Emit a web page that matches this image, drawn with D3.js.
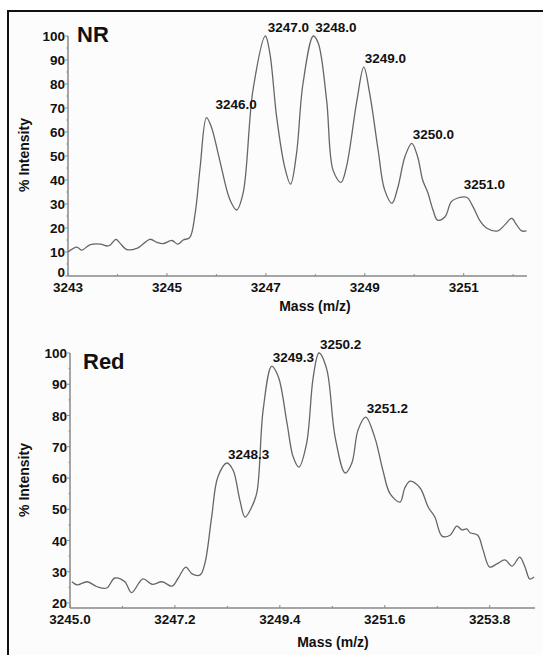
<!DOCTYPE html>
<html>
<head>
<meta charset="utf-8">
<script src="https://cdn.jsdelivr.net/npm/d3@7"></script>
<style>
  body { margin: 0; background: #fff; }
  text { font-family: "Liberation Sans", Arial, sans-serif; fill: #111; }
  .tick-label { font-size: 13.5px; font-weight: bold; }
  .peak-label { font-size: 13.5px; font-weight: bold; }
  .axis-title { font-size: 14px; font-weight: bold; }
  .panel-title { font-size: 22px; font-weight: bold; }
</style>
</head>
<body>
<svg id="chart" width="543" height="655"></svg>
<script>
// --- NR spectrum (top) ---
var nrMass = [3243.00, 3243.18, 3243.28, 3243.44, 3243.65, 3243.79, 3243.85, 3243.97, 3244.05, 3244.19,
  3244.39, 3244.47, 3244.66, 3244.80, 3244.92, 3245.10, 3245.22, 3245.33, 3245.46, 3245.57,
  3245.67, 3245.80, 3245.90, 3246.07, 3246.27, 3246.41, 3246.54, 3246.74, 3246.99, 3247.08,
  3247.22, 3247.38, 3247.50, 3247.62, 3247.75, 3247.96, 3248.06, 3248.23, 3248.36, 3248.52,
  3248.63, 3248.84, 3248.98, 3249.10, 3249.27, 3249.40, 3249.55, 3249.67, 3249.81, 3249.95,
  3250.07, 3250.17, 3250.27, 3250.38, 3250.47, 3250.62, 3250.75, 3250.88, 3251.06, 3251.19,
  3251.32, 3251.46, 3251.69, 3251.83, 3251.97, 3252.07, 3252.17, 3252.27];
var nrIntensity = [10.0, 12.0, 10.8, 13.0, 13.3, 12.5, 12.8, 15.3, 13.7, 11.0,
  11.5, 12.5, 15.3, 14.0, 13.5, 14.8, 13.3, 15.0, 16.0, 26.0,
  45.0, 66.0, 62.0, 48.0, 32.0, 27.5, 34.5, 77.5, 100.0, 93.0,
  66.0, 45.5, 38.3, 51.0, 80.0, 100.0, 97.0, 73.0, 44.0, 39.0,
  45.5, 73.0, 87.0, 76.0, 52.5, 36.0, 30.3, 37.0, 49.6, 55.3,
  49.6, 40.0, 35.0, 27.5, 23.3, 24.6, 31.0, 32.5, 32.8, 28.8,
  23.3, 20.0, 18.8, 21.3, 24.0, 21.3, 18.8, 18.8];
var nrPeakText = ["3246.0", "3247.0", "3248.0", "3249.0", "3250.0", "3251.0"];
var nrPeakMass = [3245.96, 3247.02, 3247.98, 3248.98, 3249.95, 3250.98];
var nrPeakInt = [68.0, 100.0, 100.0, 87.0, 55.3, 34.5];
var nrXLabels = [3243, 3245, 3247, 3249, 3251];
var nrXMinor = [3244, 3246, 3248, 3250, 3252];
var nrYLabels = [0, 10, 20, 30, 40, 50, 60, 70, 80, 90, 100];

// --- Red spectrum (bottom) ---
var redMass = [3245.04, 3245.15, 3245.36, 3245.57, 3245.77, 3245.94, 3246.15, 3246.29, 3246.53, 3246.72,
  3246.93, 3247.14, 3247.27, 3247.43, 3247.56, 3247.73, 3247.83, 3247.97, 3248.10, 3248.29,
  3248.42, 3248.56, 3248.67, 3248.81, 3248.92, 3249.05, 3249.23, 3249.37, 3249.55, 3249.68,
  3249.80, 3249.96, 3250.10, 3250.22, 3250.38, 3250.56, 3250.77, 3250.91, 3251.04, 3251.20,
  3251.39, 3251.56, 3251.71, 3251.92, 3252.02, 3252.13, 3252.34, 3252.51, 3252.65, 3252.80,
  3252.97, 3253.11, 3253.22, 3253.32, 3253.39, 3253.55, 3253.66, 3253.80, 3253.95, 3254.12,
  3254.27, 3254.43, 3254.54, 3254.64, 3254.73];
var redIntensity = [26.8, 25.8, 26.8, 25.2, 24.8, 28.0, 26.8, 23.3, 27.7, 26.0,
  26.8, 25.4, 28.0, 31.5, 29.3, 29.0, 32.8, 47.5, 60.3, 64.8,
  62.5, 53.0, 47.5, 50.7, 55.5, 81.8, 95.8, 92.3, 77.6, 66.7,
  63.5, 71.0, 92.3, 100.0, 95.0, 73.0, 61.6, 64.8, 75.4, 79.5,
  73.0, 62.5, 55.0, 52.3, 56.8, 59.0, 56.8, 50.7, 47.5, 41.4,
  41.7, 44.6, 43.4, 43.7, 42.5, 41.7, 37.0, 31.5, 32.5, 33.8,
  31.8, 34.7, 31.5, 27.7, 28.3];
var redPeakText = ["3248.3", "3249.3", "3250.2", "3251.2"];
var redPeakMass = [3248.29, 3249.23, 3250.22, 3251.20];
var redPeakInt = [64.8, 95.8, 100.0, 79.5];
var redXLabels = [3245.0, 3247.2, 3249.4, 3251.6, 3253.8];
var redXMinor = [3246.1, 3248.3, 3250.5, 3252.7];
var redYLabels = [20, 30, 40, 50, 60, 70, 80, 90, 100];

var svg = d3.select("#chart");

// page frame (top and left edges only are visible)
svg.append("rect").attr("x", 0).attr("y", 0).attr("width", 543).attr("height", 655).attr("fill", "#fff");
svg.append("rect").attr("x", 8).attr("y", 11).attr("width", 540).attr("height", 650)
  .attr("fill", "#fcfcfc").attr("stroke", "#111").attr("stroke-width", 2);

// --- draws one spectrum panel ---
function drawPanel(opt) {
  var x = d3.scaleLinear().domain(opt.xDomain).range(opt.xRange);
  var y = d3.scaleLinear().domain(opt.yDomain).range(opt.yRange);
  var g = svg.append("g");
  var axisColor = "#888";
  var x0 = opt.xRange[0], y0 = opt.yRange[0];

  // y axis line + ticks
  g.append("line").attr("x1", x0).attr("x2", x0).attr("y1", y0).attr("y2", y(100))
    .attr("stroke", axisColor).attr("stroke-width", 1.5);
  opt.yLabels.forEach(function (v) {
    g.append("line").attr("x1", x0 - 3).attr("x2", x0).attr("y1", y(v)).attr("y2", y(v))
      .attr("stroke", axisColor);
    // the bottom "0" sits a little higher so it clears the x labels
    g.append("text").attr("class", "tick-label").attr("x", x0 - 3)
      .attr("y", y(v) + (v === 0 ? 1 : 5))
      .attr("text-anchor", "end").text(v);
    if (v + 5 <= 100) {
      g.append("line").attr("x1", x0 - 1.5).attr("x2", x0).attr("y1", y(v + 5)).attr("y2", y(v + 5))
        .attr("stroke", axisColor);
    }
  });

  // x axis line + ticks
  g.append("line").attr("x1", x0).attr("x2", opt.xRange[1]).attr("y1", y0).attr("y2", y0)
    .attr("stroke", axisColor).attr("stroke-width", 1.5);
  opt.xLabels.forEach(function (v) {
    g.append("line").attr("x1", x(v)).attr("x2", x(v)).attr("y1", y0).attr("y2", y0 - 3)
      .attr("stroke", axisColor);
    g.append("text").attr("class", "tick-label").attr("x", x(v)).attr("y", y0 + 16)
      .attr("text-anchor", "middle").text(opt.xFormat(v));
  });
  opt.xMinor.forEach(function (v) {
    g.append("line").attr("x1", x(v)).attr("x2", x(v)).attr("y1", y0).attr("y2", y0 - 2)
      .attr("stroke", axisColor);
  });

  // titles
  g.append("text").attr("class", "axis-title").attr("text-anchor", "middle")
    .attr("transform", translate(29, opt.yTitleY) + " rotate(-90)").text("% Intensity");
  g.append("text").attr("class", "axis-title").attr("text-anchor", "middle")
    .attr("x", opt.xTitleX).attr("y", opt.xTitleY).text("Mass (m/z)");
  g.append("text").attr("class", "panel-title").attr("x", opt.titleX).attr("y", opt.titleY)
    .text(opt.title);

  // spectrum line
  var pts = opt.mass.map(function (m, i) { return [m, opt.intensity[i]]; });
  var line = d3.line()
    .x(function (d) { return x(d[0]); })
    .y(function (d) { return y(d[1]); })
    .curve(d3.curveCatmullRom.alpha(0.5));
  g.append("path").attr("d", line(pts)).attr("fill", "none")
    .attr("stroke", "#666").attr("stroke-width", 1.3);

  // peak labels
  opt.peakText.forEach(function (t, i) {
    g.append("text").attr("class", "peak-label")
      .attr("x", x(opt.peakMass[i]) + 1).attr("y", y(opt.peakInt[i]) - 4)
      .text(t);
  });
}

function translate(x, y) {
  return "translate(" + x + ", " + y + ")";
}

drawPanel({
  title: "NR", titleX: 77, titleY: 42,
  mass: nrMass, intensity: nrIntensity,
  peakText: nrPeakText, peakMass: nrPeakMass, peakInt: nrPeakInt,
  xDomain: [3243, 3252.28], xRange: [68, 527],
  yDomain: [0, 100], yRange: [276, 36],
  xLabels: nrXLabels, xMinor: nrXMinor, yLabels: nrYLabels,
  xFormat: function (v) { return v; },
  yTitleY: 155, xTitleX: 315, xTitleY: 311
});

drawPanel({
  title: "Red", titleX: 83, titleY: 369,
  mass: redMass, intensity: redIntensity,
  peakText: redPeakText, peakMass: redPeakMass, peakInt: redPeakInt,
  xDomain: [3245, 3254.75], xRange: [70, 535],
  yDomain: [18.4, 100], yRange: [608, 353],
  xLabels: redXLabels, xMinor: redXMinor, yLabels: redYLabels,
  xFormat: function (v) { return v.toFixed(1); },
  yTitleY: 480, xTitleX: 333, xTitleY: 647
});
</script>
</body>
</html>
